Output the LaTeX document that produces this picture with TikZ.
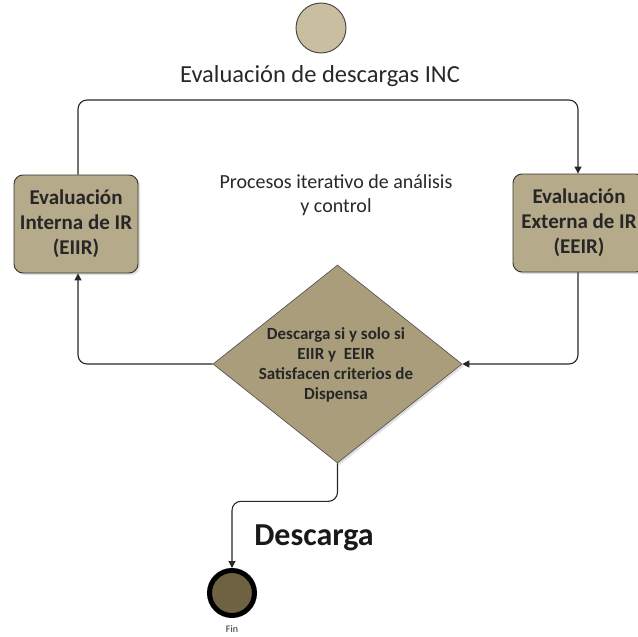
\documentclass[tikz,border=0pt]{standalone}
\usepackage{fontspec}
\setmainfont{Carlito}
\usetikzlibrary{shapes.geometric,arrows.meta,shadows}
\definecolor{boxfill}{RGB}{181,170,138}
\definecolor{diafill}{RGB}{169,157,124}
\definecolor{startfill}{RGB}{201,191,160}
\definecolor{endfill}{RGB}{111,98,66}
\definecolor{txt}{RGB}{40,40,40}
\tikzset{
  procbox/.style={draw=black!80, line width=0.9pt, fill=boxfill, rounded corners=9pt,
    minimum width=124pt, minimum height=98pt, align=center, inner sep=0pt,
    font=\fontsize{21}{25}\selectfont\bfseries, text=black!85,
    drop shadow={opacity=0.25, shadow xshift=2pt, shadow yshift=-2pt}},
  conn/.style={draw=black!85, line width=1.1pt, rounded corners=9pt},
  arr/.style={-{Triangle[length=7pt,width=7pt]}},
  plain/.style={text=txt, align=center, inner sep=0pt}
}
\begin{document}
\begin{tikzpicture}[x=1pt,y=-1pt]
\useasboundingbox (0,0) rectangle (638,637);
% start
\node[circle, draw=black!75, line width=0.9pt, fill=startfill, minimum size=50pt, inner sep=0pt] (S) at (321,28) {};
\node[plain, font=\fontsize{24.5}{29}\selectfont, anchor=base] (T) at (320,82) {Evaluación de descargas INC};
% boxes
\node[procbox] (L) at (76,224) {Evaluación\\Interna de IR\\(EIIR)};
\node[procbox, minimum width=132pt] (R) at (579,223) {Evaluación\\Externa de IR\\(EEIR)};
\node[plain, font=\fontsize{20}{24}\selectfont] (P) at (336,195) {Procesos iterativo de análisis\\y control};
% diamond
\node[diamond, draw=black!70, line width=0.6pt, fill=diafill, minimum width=249pt, minimum height=198pt, inner sep=0pt,
  drop shadow={opacity=0.25, shadow xshift=2pt, shadow yshift=-2pt}] (D) at (337.5,364) {};
\node[plain, font=\fontsize{17}{20}\selectfont\bfseries, text=black!85] (DT) at (336,365) {Descarga si y solo si\\EIIR y\ \ EEIR\\Satisfacen criterios de\\Dispensa};
% end
\node[circle, draw=black, line width=5pt, fill=endfill, minimum size=45pt, inner sep=0pt] (E) at (232,593) {};
\node[plain, font=\fontsize{10}{12}\selectfont] (F) at (232,629) {Fin};
\node[plain, font=\fontsize{32}{38}\selectfont\bfseries, text=black!90] (DL) at (314,538) {Descarga};
% connectors
\draw[conn, arr] ([xshift=2pt]L.north) -- ([xshift=2pt]L.north |- 0,100) -| ([xshift=-1pt]R.north);
\draw[conn, arr] ([xshift=-1pt]R.south) |- (D.east);
\draw[conn, arr] (D.west) -| ([xshift=2pt]L.south);
\draw[conn, arr] (D.south) -- ++(0,38) -| (E.north);
\end{tikzpicture}
\end{document}
